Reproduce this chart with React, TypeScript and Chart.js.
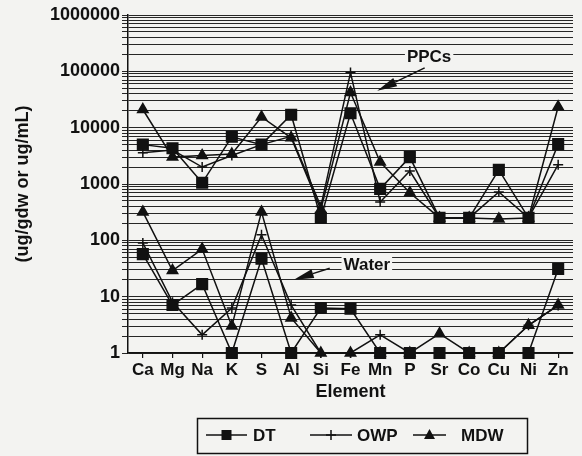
import React, { useEffect, useRef } from "react";
import { Chart, registerables } from "chart.js";
Chart.register(...registerables);

const elements = ["Ca", "Mg", "Na", "K", "S", "Al", "Si", "Fe", "Mn", "P", "Sr", "Co", "Cu", "Ni", "Zn"];
// PPCs (upper group)
const ppcDT = [5000, 4300, 1050, 6900, 5000, 17000, 250, 18000, 820, 3000, 250, 250, 1780, 250, 5100];
const ppcOWP = [3600, 4000, 2000, 3200, 5000, 7000, 400, 95000, 480, 1700, 250, 250, 720, 250, 2200];
const ppcMDW = [21000, 3000, 3200, 3400, 15500, 6600, 350, 42000, 2450, 700, 250, 250, 240, 250, 23500];
// Water (lower group)
const waterDT = [57, 7.1, 16.7, 1, 47, 1, 6.3, 6.1, 1, 1, 1, 1, 1, 1, 31];
const waterOWP = [90, 8, 2.1, 6.3, 125, 7.1, 1, 1, 2.1, 1, 1, 1, 1, 3.1, 7];
const waterMDW = [320, 29, 70, 3, 320, 4.2, 1, 1, 1, 1, 2.2, 1, 1, 3.1, 7.1];

const decadeTicks = [1, 10, 100, 1000, 10000, 100000, 1000000];
const minorMultipliers = [1, 2, 3, 4, 5, 6, 7, 8, 9];
const seriesNames = ["DT", "OWP", "MDW"];
const yTitle = "(ug/gdw or ug/mL)";
const xTitle = "Element";
const ppcLabel = "PPCs";
const waterLabel = "Water";

const FONT = "'Liberation Sans', Arial, Helvetica, sans-serif";
const INK = "#111111";
const BG = "#f3f3f1";

function drawMarker(ctx: CanvasRenderingContext2D, style: string, x: number, y: number) {
  ctx.beginPath();
  if (style === "rect") {
    ctx.rect(x - 5, y - 5, 10, 10);
    ctx.fill();
  } else if (style === "triangle") {
    ctx.moveTo(x, y - 6);
    ctx.lineTo(x + 5.5, y + 4);
    ctx.lineTo(x - 5.5, y + 4);
    ctx.closePath();
    ctx.fill();
  } else {
    ctx.moveTo(x - 5, y);
    ctx.lineTo(x + 5, y);
    ctx.moveTo(x, y - 5);
    ctx.lineTo(x, y + 5);
    ctx.stroke();
  }
}

function drawArrow(ctx: CanvasRenderingContext2D, x0: number, y0: number, x1: number, y1: number) {
  const ang = Math.atan2(y1 - y0, x1 - x0);
  const headLen = 20;
  const headW = 4.5;
  const bx = x1 - headLen * Math.cos(ang);
  const by = y1 - headLen * Math.sin(ang);
  ctx.beginPath();
  ctx.moveTo(x0, y0);
  ctx.lineTo(bx, by);
  ctx.stroke();
  ctx.beginPath();
  ctx.moveTo(x1, y1);
  ctx.lineTo(bx + headW * Math.sin(ang), by - headW * Math.cos(ang));
  ctx.lineTo(bx - headW * Math.sin(ang), by + headW * Math.cos(ang));
  ctx.closePath();
  ctx.fill();
}

const bgPlugin = {
  id: "bgFill",
  beforeDraw(chart: any) {
    const ctx = chart.ctx;
    ctx.save();
    ctx.fillStyle = BG;
    ctx.fillRect(0, 0, chart.width, chart.height);
    ctx.restore();
  },
};

const annotationPlugin = {
  id: "annot",
  beforeDatasetsDraw(chart: any) {
    const ctx = chart.ctx;
    const x = chart.scales.x;
    const y = chart.scales.y;
    ctx.save();
    ctx.font = `bold 17px ${FONT}`;
    ctx.textAlign = "center";
    ctx.textBaseline = "middle";
    const labels = [
      { text: ppcLabel, xi: 9.65, v: 180000, ax0: 9.5, av0: 115000, ax1: 7.9, av1: 45000 },
      { text: waterLabel, xi: 7.55, v: 36, ax0: 6.3, av0: 32, ax1: 5.09, av1: 20 },
    ];
    for (const l of labels) {
      const px = x.getPixelForValue(l.xi);
      const py = y.getPixelForValue(l.v);
      const w = ctx.measureText(l.text).width;
      ctx.fillStyle = BG;
      ctx.fillRect(px - w / 2 - 2, py - 9, w + 4, 18);
      ctx.fillStyle = INK;
      ctx.fillText(l.text, px, py);
      ctx.strokeStyle = INK;
      ctx.lineWidth = 1.5;
      drawArrow(
        ctx,
        x.getPixelForValue(l.ax0),
        y.getPixelForValue(l.av0),
        x.getPixelForValue(l.ax1),
        y.getPixelForValue(l.av1)
      );
    }
    ctx.restore();
  },
};

const legendPlugin = {
  id: "boxLegend",
  afterDraw(chart: any) {
    const ctx = chart.ctx;
    ctx.save();
    ctx.strokeStyle = INK;
    ctx.fillStyle = INK;
    ctx.lineWidth = 1.5;
    ctx.strokeRect(197.5, 418.5, 330, 35);
    const yy = 435;
    const items = [
      { style: "rect", l0: 206, l1: 247, tx: 253 },
      { style: "cross", l0: 310, l1: 352, tx: 357 },
      { style: "triangle", l0: 413, l1: 446, tx: 461 },
    ];
    ctx.font = `bold 17px ${FONT}`;
    ctx.textBaseline = "middle";
    ctx.textAlign = "left";
    items.forEach((it, i) => {
      ctx.lineWidth = 1.5;
      ctx.beginPath();
      ctx.moveTo(it.l0, yy);
      ctx.lineTo(it.l1, yy);
      ctx.stroke();
      drawMarker(ctx, it.style, (it.l0 + it.l1) / 2, yy);
      ctx.fillText(seriesNames[i], it.tx, yy + 1);
    });
    ctx.restore();
  },
};

export default function App() {
  const ref = useRef<HTMLCanvasElement | null>(null);
  useEffect(() => {
    if (!ref.current) return;
    const mk = (label: string, data: number[], style: string, radius: number) => ({
      label,
      data,
      borderColor: INK,
      backgroundColor: INK,
      pointBackgroundColor: INK,
      pointBorderColor: INK,
      pointStyle: style,
      pointRadius: radius,
      pointBorderWidth: 1.5,
      borderWidth: 1.5,
      tension: 0,
      clip: false,
      fill: false,
    });
    const chart = new Chart(ref.current, {
      type: "line",
      data: {
        labels: elements,
        datasets: [
          mk("DT", ppcDT, "rect", 7.5),
          mk("OWP", ppcOWP, "cross", 5),
          mk("MDW", ppcMDW, "triangle", 6),
          mk("DT (water)", waterDT, "rect", 7.5),
          mk("OWP (water)", waterOWP, "cross", 5),
          mk("MDW (water)", waterMDW, "triangle", 6),
        ] as any,
      },
      options: {
        animation: false,
        responsive: true,
        maintainAspectRatio: false,
        layout: { padding: { top: 15, right: 0, bottom: 53, left: 0 } },
        plugins: { legend: { display: false }, tooltip: { enabled: false } },
        scales: {
          x: {
            type: "category",
            offset: true,
            afterFit: (s: any) => {
              s.height = 50;
            },
            grid: { drawOnChartArea: false, drawTicks: true, tickLength: 5, color: INK, lineWidth: 1.2 },
            border: { display: true, color: INK, width: 1.5 },
            ticks: {
              font: { family: FONT, size: 17, weight: "bold" },
              color: INK,
              padding: 2,
              maxRotation: 0,
              autoSkip: false,
            },
            title: {
              display: true,
              text: xTitle,
              color: INK,
              font: { family: FONT, size: 18, weight: "bold" },
              padding: { top: 0, bottom: 0 },
            },
          },
          y: {
            type: "logarithmic",
            min: 1,
            max: 1000000,
            afterBuildTicks: (scale: any) => {
              const t: any[] = [];
              decadeTicks.forEach((d, i) => {
                if (i === decadeTicks.length - 1) {
                  t.push({ value: d });
                } else {
                  minorMultipliers.forEach((m) => t.push({ value: d * m }));
                }
              });
              scale.ticks = t;
            },
            afterFit: (s: any) => {
              s.width = 128;
            },
            grid: { color: "#262626", lineWidth: 1, tickLength: 6, drawTicks: true },
            border: { display: true, color: INK, width: 1.5 },
            ticks: {
              autoSkip: false,
              padding: 2,
              color: INK,
              font: { family: FONT, size: 18, weight: "bold" },
              callback: (v: any) => (decadeTicks.includes(Number(v)) ? String(v) : ""),
            },
            title: {
              display: true,
              text: yTitle,
              color: INK,
              font: { family: FONT, size: 18, weight: "bold" },
              padding: { top: 12, bottom: 0 },
            },
          },
        },
      } as any,
      plugins: [bgPlugin, annotationPlugin, legendPlugin],
    });
    return () => chart.destroy();
  }, []);
  return (
    <div style={{ position: "fixed", left: 0, top: 0, width: 582, height: 456, background: BG }}>
      <canvas ref={ref} />
    </div>
  );
}
